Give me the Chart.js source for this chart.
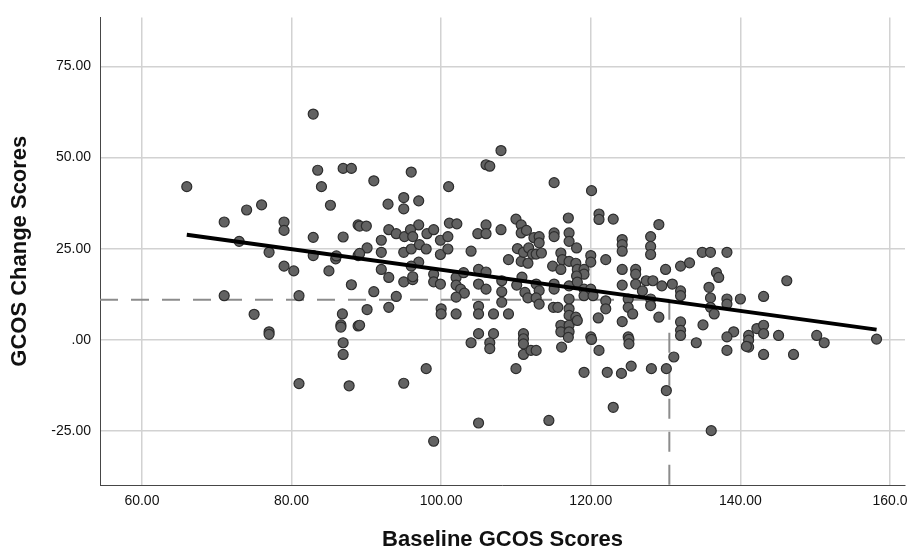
<!DOCTYPE html>
<html>
<head>
<meta charset="utf-8">
<script src="https://cdn.jsdelivr.net/npm/chart.js@4"></script>
<style>
    body { margin: 0; background: #fff; }
    #wrap { width: 917px; height: 554px; }
</style>
</head>
<body>
<div id="wrap"><canvas id="gcosChart" width="917" height="554"></canvas></div>
<script>
// baseline score (x) and change score (y) for each patient
const baselineScores = [
    66, 71, 71, 73, 74, 75, 76, 77, 77, 77, 79, 79, 79, 80.3, 81, 81, 82.9, 83.5, 84, 85.2,
    86.9, 88, 82.9, 82.9, 85.9, 86, 86.9, 88.9, 88.9, 85, 88, 86.8, 86.6, 86.6, 88.9, 86.9, 86.9, 87.7,
    108, 106, 106.5, 96, 91, 101, 95, 92.9, 97, 95, 89.1, 90, 97, 101.1, 102.1, 106, 110, 110.7,
    93, 94, 95.1, 95.9, 96.2, 98.1, 99, 99.9, 100.9, 104.9, 106, 108, 110.7, 111.4, 112.4,
    92, 90.1, 92, 89.1, 95, 96, 97.1, 98, 99.9, 100.9, 104, 109, 110.2, 110.7, 111, 111.6, 111.7, 112.2,
    97, 96, 92, 93, 95, 96.2, 96.2, 99, 99, 99.9, 102, 103, 102, 102.6, 103.1, 102, 105, 106, 105, 106,
    108.1, 108.1, 108.1, 110.1, 110.8, 111.2, 111.6, 91, 94, 93, 90.1, 89.1, 100, 100, 102, 105, 105, 107, 109,
    105, 107, 111, 104, 106.5, 106.5, 111, 111, 111, 112, 110, 98, 95, 105, 99,
    115.1, 120.1, 117, 121.1, 121.1, 123, 129.1, 113.1, 113.1, 115.1, 115.1, 117.1, 117.1, 118.1,
    124.2, 124.2, 124.2, 128, 128, 128, 134.9, 136, 112.7, 113.4, 116, 116.2, 114.9, 116, 117.1, 118, 118.2,
    119.1, 119.1, 120, 120, 122, 124.2, 126, 126, 127.4, 128.3, 130, 132, 133.2,
    112.7, 113.1, 112.7, 113.1, 115.1, 115.1, 117.1, 117.1, 118.1, 118.2, 119.1, 119.1, 120, 120.3, 122, 122,
    124.2, 125, 125, 125.6, 126, 126.9, 128, 128, 129.5, 130.9, 132, 132, 135.8, 136, 136,
    115, 115.6, 117.1, 117.1, 118, 116, 116, 117.1, 117.1, 118.2, 121, 124.2, 129.1, 132, 132, 135,
    120, 125, 117, 120.1, 125.1, 125.1, 132, 134.1, 112.7, 116.1, 121.1, 131.1,
    119.1, 122.2, 124.1, 125.4, 128.1, 130.1, 130.1, 123, 114.4, 136.1,
    138.2, 136.8, 137.1, 138.2, 138.2, 140, 143.1, 146.2, 136.5, 139.1, 138.2, 141.1, 142.2, 143.1, 143.1,
    145.1, 150.2, 158.2, 141.1, 141.1, 140.8, 138.2, 143.1, 147.1, 151.2
];
const changeScores = [
    42, 32.3, 12.1, 27, 35.6, 7, 37, 24, 2.2, 1.5, 32.3, 30, 20.2, 18.9, 12.1, -12, 61.9, 46.5, 42, 36.9,
    47, 47, 28.1, 23.1, 22.2, 23, 28.2, 31.5, 23.1, 18.9, 15.1, 7.1, 4.1, 3.5, 3.8, -0.8, -4, -12.6,
    51.9, 48, 47.6, 46, 43.6, 42, 39, 37.2, 38.1, 35.9, 31.2, 31.2, 31.5, 32, 31.8, 31.5, 33.1, 31.5,
    30.2, 29.1, 28.3, 30.2, 28.3, 29.1, 30.2, 27.3, 28.3, 29.1, 29.1, 30.2, 29.3, 30, 28,
    27.3, 25.2, 24, 23.7, 24, 24.9, 26.1, 24.9, 23.4, 24.9, 24.3, 22, 25, 21.5, 24, 21, 25.2, 23.5,
    21.3, 20.2, 19.3, 17.1, 15.9, 16.5, 17.3, 18, 15.9, 15.3, 17.1, 18.4, 15, 13.9, 12.8, 11.7, 19.3, 18.6, 15.3, 13.9,
    16.2, 13.2, 10.3, 15, 17.2, 13, 11.5, 13.2, 11.9, 8.9, 8.3, 4, 8.5, 7.1, 7.1, 9.2, 7.1, 7.1, 7.1,
    1.7, 1.7, 1.7, -0.8, -0.8, -2.4, 0.3, -1.1, -4, -2.9, -7.9, -7.9, -11.9, -22.8, -27.8,
    43.1, 40.9, 33.4, 34.5, 33, 33.1, 31.6, 28.3, 26.6, 29.3, 28.3, 29.3, 27, 25.2,
    27.5, 26.1, 24.3, 28.3, 25.6, 23.4, 24, 24, 23.5, 23.8, 23.8, 22, 20.2, 19.3, 21.5, 21, 19.3,
    19.3, 18, 23.1, 21.3, 22, 19.3, 19.3, 18, 16.2, 16.2, 19.3, 20.2, 21.1,
    15.3, 13.5, 11.5, 9.8, 15.3, 13.9, 14.8, 11.2, 17.5, 15.8, 13.9, 12.1, 13.9, 12.1, 10.7, 8.5,
    15, 11.2, 8.9, 7.1, 15.3, 13.4, 11.2, 9.4, 14.8, 15.3, 13.4, 12.1, 14.4, 11.5, 8.9,
    8.9, 8.9, 8.5, 6.7, 6.2, 4, 2.2, 4, 2.2, 5.3, 6, 5, 6.2, 4.9, 2.6, 4.1,
    0.8, 0.8, 0.7, 0.1, 0.1, -1.1, 1.2, -0.8, -2.9, -2, -2.9, -4.7,
    -8.9, -8.9, -9.2, -7.2, -7.9, -7.9, -13.9, -18.5, -22.1, -24.9,
    24, 18.4, 17.1, 11.2, 9.8, 11.2, 11.9, 16.2, 7.1, 2.2, 0.8, 1.2, 3.1, 4, 1.7,
    1.2, 1.2, 0.2, -0.1, -2, -1.8, -2.9, -4, -4, -0.8
];

// fit line and the dashed reference lines (data units)
const fitLine = [{ x: 66, y: 28.8 }, { x: 158.2, y: 2.8 }];
const refHorizontal = [{ x: 54.4, y: 11 }, { x: 130.5, y: 11 }];
const refVertical = [{ x: 130.5, y: 11 }, { x: 130.5, y: -39.8 }];

const xTicks = [60, 80, 100, 120, 140, 160];
const yTicks = [-25, 0, 25, 50, 75];

const points = baselineScores.map(function (b, i) {
    return { x: b, y: changeScores[i] };
});

const ctx = document.getElementById('gcosChart').getContext('2d');
const gcosChart = new Chart(ctx, {
    type: 'scatter',
    data: {
        datasets: [
            {
                type: 'line',
                data: fitLine,
                borderColor: '#000',
                borderWidth: 4,
                pointRadius: 0,
                order: 0
            },
            {
                data: points,
                backgroundColor: 'rgb(98, 98, 98)',
                borderColor: 'rgb(45, 45, 45)',
                borderWidth: 1.2,
                pointRadius: 5,
                order: 1
            },
            {
                type: 'line',
                data: refHorizontal,
                borderColor: 'rgb(140, 140, 140)',
                borderWidth: 2,
                borderDash: [18, 13],
                pointRadius: 0,
                order: 2
            },
            {
                type: 'line',
                data: refVertical,
                borderColor: 'rgb(140, 140, 140)',
                borderWidth: 2,
                borderDash: [20, 13],
                pointRadius: 0,
                order: 2
            }
        ]
    },
    options: {
        responsive: false,
        animation: false,
        layout: { padding: { top: 12, right: 12 } },
        scales: {
            x: {
                type: 'linear',
                min: 54.4,
                max: 162,
                afterBuildTicks: function (scale) {
                    scale.ticks = xTicks.map(function (v) { return { value: v }; });
                },
                afterFit: function (scale) {
                    scale.height = 554 - 485;
                },
                ticks: {
                    padding: 8,
                    color: '#111',
                    font: { family: 'Liberation Sans', size: 14 },
                    callback: function (v) { return v === 160 ? '160.0' : v.toFixed(2); }
                },
                grid: { color: 'rgb(210, 210, 210)', lineWidth: 1.5, drawTicks: false },
                border: { color: 'rgb(70, 70, 70)', width: 1 },
                title: {
                    display: true,
                    text: 'Baseline GCOS Scores',
                    color: '#111',
                    padding: { top: 0, bottom: 1 },
                    font: { family: 'Liberation Sans', size: 22, weight: 'bold' }
                }
            },
            y: {
                type: 'linear',
                min: -39.8,
                max: 88.4,
                afterBuildTicks: function (scale) {
                    scale.ticks = yTicks.map(function (v) { return { value: v }; });
                },
                afterFit: function (scale) {
                    scale.width = 100;
                },
                ticks: {
                    padding: 9,
                    color: '#111',
                    font: { family: 'Liberation Sans', size: 14 },
                    callback: function (v) { return v === 0 ? '.00' : v.toFixed(2); }
                },
                grid: { color: 'rgb(210, 210, 210)', lineWidth: 1.5, drawTicks: false },
                border: { color: 'rgb(70, 70, 70)', width: 1 },
                title: {
                    display: true,
                    text: 'GCOS Change Scores',
                    color: '#111',
                    padding: { top: 7, bottom: 0 },
                    font: { family: 'Liberation Sans', size: 22, weight: 'bold' }
                }
            }
        },
        plugins: {
            legend: { display: false },
            tooltip: { enabled: false }
        }
    }
});
</script>
</body>
</html>
